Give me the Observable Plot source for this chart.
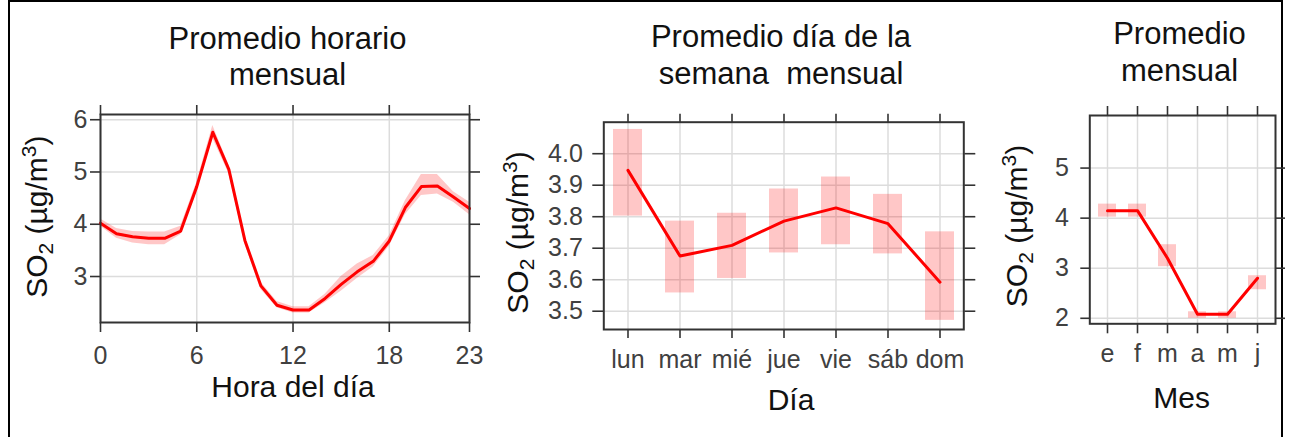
<!DOCTYPE html>
<html><head><meta charset="utf-8">
<script src="https://cdn.jsdelivr.net/npm/d3@7"></script>
<script src="https://cdn.jsdelivr.net/npm/@observablehq/plot@0.6"></script>
<style>
body{margin:0;background:#fff;}
#wrap{position:relative;width:1289px;height:437px;overflow:hidden;font-family:"Liberation Sans",Arial,sans-serif;background:#fff;}
.border{position:absolute;left:8px;top:0;width:1275px;height:470px;border:2px solid #000;box-sizing:border-box;}
.title{position:absolute;font-size:31px;text-align:center;color:#111;white-space:pre;}
.panel{position:absolute;top:95px;}
</style></head><body>
<div id="wrap">
  <div class="border"></div>
  <div class="title" style="left:137.5px;width:300px;top:20.5px;line-height:36px;">Promedio horario
mensual</div>
  <div class="title" style="left:631px;width:300px;top:18px;line-height:37px;">Promedio día de la
semana  mensual</div>
  <div class="title" style="left:1079.5px;width:200px;top:16.3px;line-height:36.7px;">Promedio
mensual</div>
  <div class="panel" id="p1" style="left:0px;"></div>
  <div class="panel" id="p2" style="left:495px;"></div>
  <div class="panel" id="p3" style="left:990px;"></div>
</div>
<script>
// ---------- Data ----------
const hours = [0,1,2,3,4,5,6,7,8,9,10,11,12,13,14,15,16,17,18,19,20,21,22,23];
const so2Hour   = [4.02,3.82,3.76,3.73,3.73,3.87,4.72,5.76,5.05,3.69,2.82,2.45,2.36,2.36,2.58,2.85,3.09,3.29,3.68,4.32,4.72,4.73,4.52,4.30];
const so2HourLo = [3.96,3.73,3.64,3.61,3.61,3.80,4.64,5.64,4.97,3.62,2.75,2.40,2.30,2.30,2.50,2.72,2.96,3.18,3.58,4.18,4.55,4.58,4.42,4.18];
const so2HourHi = [4.10,3.92,3.86,3.85,3.85,3.96,4.80,5.89,5.14,3.77,2.89,2.52,2.42,2.42,2.66,3.00,3.24,3.40,3.78,4.45,4.95,4.95,4.62,4.42];
const hourTicks = [0,6,12,18,23];
const hourYTicks = [3,4,5,6];

const days = ["lun","mar","mié","jue","vie","sáb","dom"];
const so2Day   = [3.947,3.675,3.709,3.786,3.828,3.778,3.592];
const so2DayLo = [3.802,3.558,3.604,3.685,3.711,3.682,3.471];
const so2DayHi = [4.077,3.786,3.811,3.888,3.926,3.871,3.752];
const dayYTicks = [3.5,3.6,3.7,3.8,3.9,4.0];

const months = ["ene","feb","mar","abr","may","jun"];
const monthTickLabels = ["e","f","m","a","m","j"];
const so2Month   = [4.15,4.15,3.20,2.08,2.08,2.80];
const so2MonthLo = [4.02,4.02,3.03,2.00,2.00,2.57];
const so2MonthHi = [4.28,4.28,3.47,2.13,2.13,2.85];
const monthYTicks = [2,3,4,5];

// ---------- Helpers ----------
const FONT = '"Liberation Sans", Arial, sans-serif';
const RED = "#ff0000";
const FRAME = "#333333";
const TICKTXT = "#404040";
const GRID = "#dcdcdc";

function commonMarks(xTicks, yTicks, opt) {
  return [
    Plot.gridX({ticks: xTicks, stroke: GRID, strokeOpacity: 1, strokeWidth: 1.5}),
    Plot.gridY({ticks: yTicks, stroke: GRID, strokeOpacity: 1, strokeWidth: 1.5}),
    Plot.axisX({anchor: "bottom", ticks: xTicks, tickSize: opt.xTick, tickPadding: opt.xPad, stroke: FRAME, strokeWidth: 1.6, fill: TICKTXT, label: null, tickFormat: opt.xFormat}),
    Plot.axisX({anchor: "top", ticks: xTicks, tickSize: opt.xTick, stroke: FRAME, strokeWidth: 1.6, fill: "none", label: null}),
    Plot.axisY({anchor: "left", ticks: yTicks, tickSize: opt.yTick, tickPadding: opt.yPad, stroke: FRAME, strokeWidth: 1.6, fill: TICKTXT, label: null, tickFormat: opt.yFormat}),
    Plot.axisY({anchor: "right", ticks: yTicks, tickSize: opt.yTick, stroke: FRAME, strokeWidth: 1.6, fill: "none", label: null})
  ];
}

function addLabels(svg, yx, yy, xx, xy, xText) {
  const s = d3.select(svg);
  const t = s.append("text")
    .attr("transform", `translate(${yx},${yy}) rotate(-90)`)
    .attr("text-anchor", "middle")
    .attr("font-family", FONT).attr("font-size", 30).attr("fill", "#111");
  t.append("tspan").text("SO");
  t.append("tspan").attr("font-size", 21).attr("dy", 6).text("2");
  t.append("tspan").attr("dy", -6).text(" (µg/m");
  t.append("tspan").attr("font-size", 21).attr("dy", -11).text("3");
  t.append("tspan").attr("dy", 11).text(")");
  s.append("text")
    .attr("x", xx).attr("y", xy)
    .attr("text-anchor", "middle")
    .attr("font-family", FONT).attr("font-size", 30).attr("fill", "#111")
    .text(xText);
}

const style = {fontFamily: FONT, fontSize: "25px", background: "transparent", overflow: "visible"};
const intFmt = d3.format("d");

// ---------- Panel 1 ----------
const hourData = hours.map((h, i) => ({h, v: so2Hour[i], lo: so2HourLo[i], hi: so2HourHi[i]}));
const p1 = Plot.plot({
  width: 490, height: 330,
  marginLeft: 100, marginRight: 21, marginTop: 19, marginBottom: 103,
  style,
  x: {domain: [0, 23]},
  y: {domain: [2.12, 6.1]},
  marks: [
    ...commonMarks(hourTicks, hourYTicks, {xTick: 10, xPad: 14, yTick: 10, yPad: 3, xFormat: intFmt, yFormat: intFmt}),
    Plot.areaY(hourData, {x: "h", y1: "lo", y2: "hi", fill: RED, fillOpacity: 0.22}),
    Plot.lineY(hourData, {x: "h", y: "v", stroke: RED, strokeWidth: 3}),
    Plot.frame({stroke: FRAME, strokeWidth: 2})
  ]
});
addLabels(p1, 47, 121.7, 293, 302, "Hora del día");
document.getElementById("p1").appendChild(p1);

// ---------- Panel 2 ----------
const dayData = days.map((d, i) => ({d, v: so2Day[i], lo: so2DayLo[i], hi: so2DayHi[i]}));
const p2 = Plot.plot({
  width: 495, height: 330,
  marginLeft: 108.3, marginRight: 26.7, marginTop: 26.7, marginBottom: 96,
  style,
  x: {type: "band", domain: days, paddingInner: 0.45, paddingOuter: 0.175},
  y: {domain: [3.442, 4.1]},
  marks: [
    ...commonMarks(days, dayYTicks, {xTick: 9, xPad: 12, yTick: 11, yPad: 10, yFormat: d3.format(".1f")}),
    Plot.barY(dayData, {x: "d", y1: "lo", y2: "hi", fill: RED, fillOpacity: 0.22}),
    Plot.lineY(dayData, {x: "d", y: "v", stroke: RED, strokeWidth: 3}),
    Plot.frame({stroke: FRAME, strokeWidth: 2})
  ]
});
addLabels(p2, 33, 137.5, 296, 315, "Día");
document.getElementById("p2").appendChild(p2);

// ---------- Panel 3 ----------
const monthData = months.map((m, i) => ({m, v: so2Month[i], lo: so2MonthLo[i], hi: so2MonthHi[i]}));
const p3 = Plot.plot({
  width: 299, height: 330,
  marginLeft: 99.3, marginRight: 14, marginTop: 20, marginBottom: 101.7,
  style,
  x: {type: "band", domain: months, paddingInner: 0.415, paddingOuter: 0.22},
  y: {domain: [1.89, 6.05]},
  marks: [
    ...commonMarks(months, monthYTicks, {xTick: 10, xPad: 10, yTick: 9, yPad: 12, xFormat: d => monthTickLabels[months.indexOf(d)], yFormat: intFmt}),
    Plot.barY(monthData, {x: "m", y1: "lo", y2: "hi", fill: RED, fillOpacity: 0.22}),
    Plot.lineY(monthData, {x: "m", y: "v", stroke: RED, strokeWidth: 3}),
    Plot.frame({stroke: FRAME, strokeWidth: 2})
  ]
});
addLabels(p3, 37, 131, 191.7, 313.3, "Mes");
document.getElementById("p3").appendChild(p3);
</script>
</body></html>
